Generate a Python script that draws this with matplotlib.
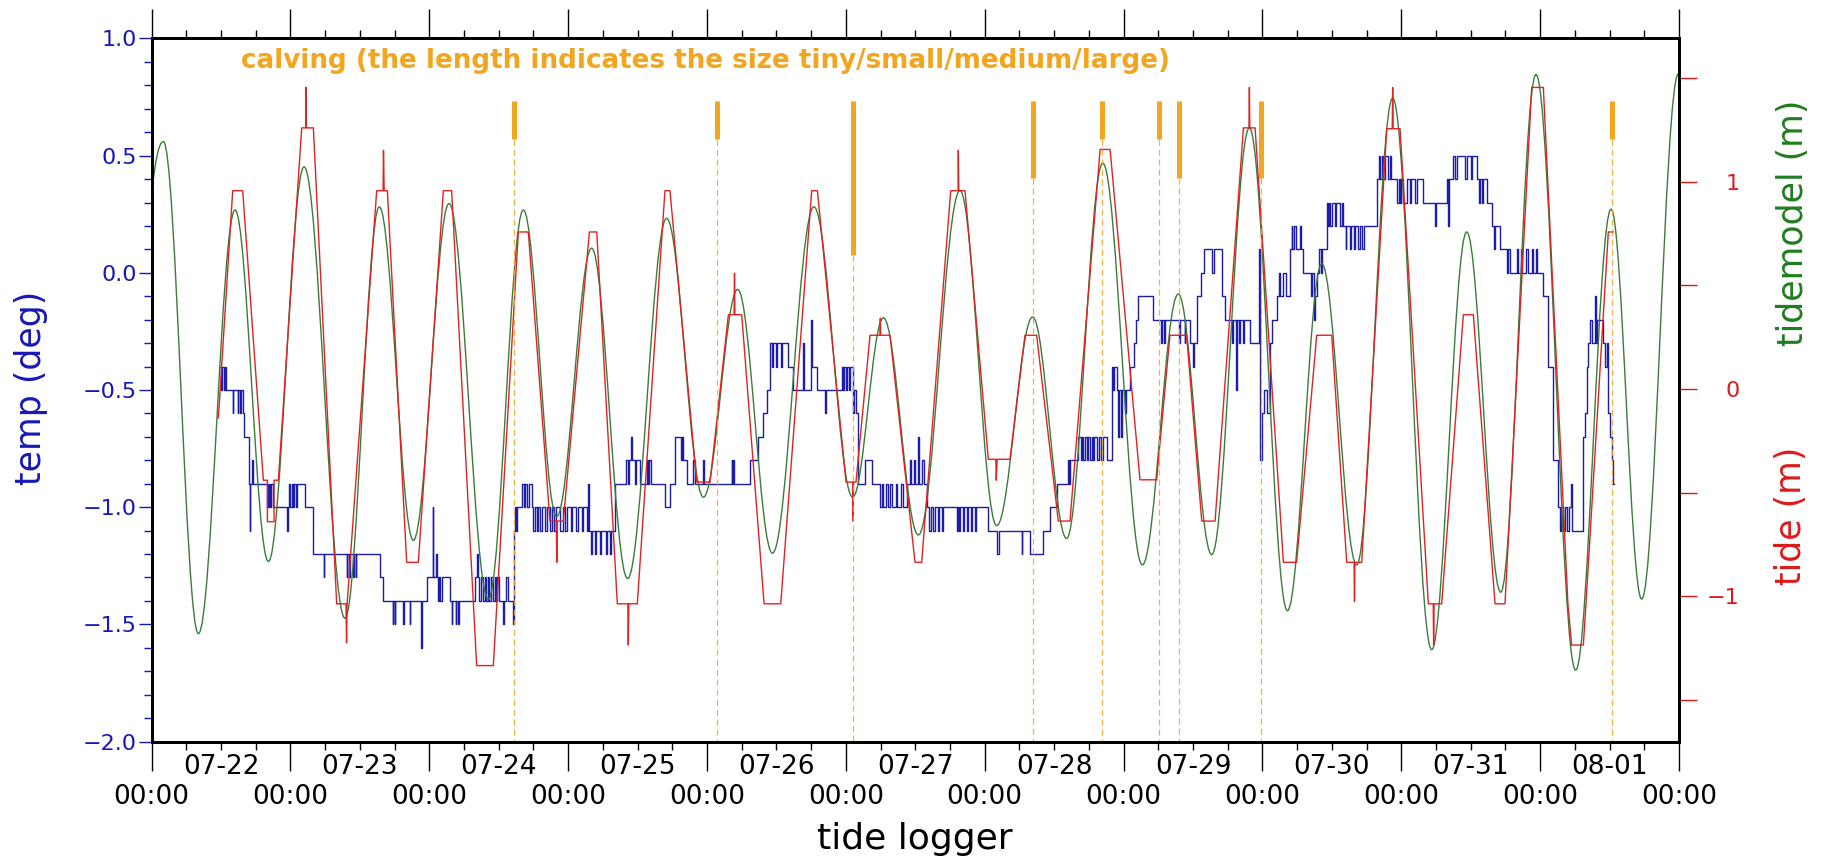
import matplotlib
matplotlib.use('Agg')
import matplotlib.pyplot as plt
from matplotlib.path import Path
from matplotlib.patches import PathPatch
from matplotlib.ticker import MultipleLocator, FixedLocator, FuncFormatter

plt.rcParams['font.family'] = ['DejaVu Sans']

# ---------------- data ----------------
# time axis: days since 07-22 00:00
day_labels = ['07-22', '07-23', '07-24', '07-25', '07-26', '07-27',
              '07-28', '07-29', '07-30', '07-31', '08-01']
hour_label = '00:00'

# tide model (m): turning points (day, value)
model_t = [0.0, 0.0845, 0.337, 0.601, 0.841, 1.098, 1.393, 1.640, 1.885, 2.142,
           2.425, 2.677, 2.917, 3.169, 3.428, 3.709, 3.974, 4.221, 4.471, 4.770,
           5.049, 5.270, 5.522, 5.822, 6.086, 6.345, 6.590, 6.850, 7.135, 7.394,
           7.635, 7.906, 8.180, 8.427, 8.679, 8.938, 9.219, 9.471, 9.716, 9.970,
           10.256, 10.511, 10.731, 10.996]
model_v = [0.945, 1.193, -1.180, 0.863, -0.832, 1.071, -1.106, 0.878, -0.730, 0.894,
           -1.013, 0.863, -0.615, 0.679, -0.914, 0.823, -0.522, 0.480, -0.792, 0.878,
           -0.522, 0.343, -0.704, 0.956, -0.659, 0.347, -0.721, 1.089, -0.848, 0.458,
           -0.799, 1.259, -1.069, 0.604, -0.848, 1.403, -1.257, 0.757, -0.980, 1.516,
           -1.356, 0.867, -1.013, 1.520]

# tide logger (m): corner points (day, value)
tide_pts = [
    (0.481, -0.14), (0.584, 0.956), (0.656, 0.956), (0.805, -0.44), (0.834, -0.44),
    (0.834, -0.64), (0.882, -0.64), (0.882, -0.44), (0.913, -0.44),
    (1.081, 1.259), (1.110, 1.259), (1.112, 1.454), (1.115, 1.259), (1.165, 1.259),
    (1.333, -1.036), (1.400, -1.036), (1.404, -1.224), (1.408, -1.036),
    (1.621, 0.956), (1.667, 0.956), (1.670, 1.151), (1.675, 0.956), (1.698, 0.956),
    (1.837, -0.836), (1.921, -0.836),
    (2.101, 0.956), (2.161, 0.956),
    (2.341, -1.334), (2.461, -1.334),
    (2.641, 0.757), (2.713, 0.757),
    (2.869, -0.637), (2.915, -0.637), (2.918, -0.836), (2.921, -0.637), (2.965, -0.637),
    (3.153, 0.757), (3.206, 0.757),
    (3.354, -1.036), (3.430, -1.036), (3.433, -1.235), (3.437, -1.036), (3.498, -1.036),
    (3.697, 0.956), (3.733, 0.956),
    (3.926, -0.449), (4.022, -0.449),
    (4.154, 0.358), (4.195, 0.358), (4.198, 0.558), (4.201, 0.358), (4.250, 0.358),
    (4.411, -1.036), (4.531, -1.036),
    (4.754, 0.956), (4.795, 0.956),
    (5.001, -0.449), (5.050, -0.449), (5.052, -0.637), (5.055, -0.449), (5.073, -0.449),
    (5.174, 0.259), (5.245, 0.259), (5.248, 0.340), (5.251, 0.259), (5.318, 0.259),
    (5.498, -0.836), (5.546, -0.836),
    (5.755, 0.956), (5.808, 0.956), (5.810, 1.151), (5.813, 0.956), (5.858, 0.956),
    (6.026, -0.339), (6.080, -0.339), (6.083, -0.440), (6.090, -0.339), (6.182, -0.339),
    (6.290, 0.259), (6.374, 0.259),
    (6.530, -0.637), (6.614, -0.637),
    (6.831, 1.155), (6.903, 1.155),
    (7.118, -0.438), (7.238, -0.438),
    (7.334, 0.259), (7.454, 0.259),
    (7.563, -0.637), (7.659, -0.637),
    (7.863, 1.259), (7.903, 1.259), (7.906, 1.454), (7.909, 1.259), (7.947, 1.259),
    (8.151, -0.836), (8.246, -0.836),
    (8.391, 0.259), (8.499, 0.259),
    (8.607, -0.836), (8.660, -0.836), (8.663, -1.025), (8.666, -0.836), (8.715, -0.836),
    (8.895, 1.255), (8.935, 1.255), (8.938, 1.454), (8.941, 1.255), (8.991, 1.255),
    (9.195, -1.036), (9.230, -1.036), (9.233, -1.235), (9.236, -1.036), (9.291, -1.036),
    (9.447, 0.358), (9.519, 0.358),
    (9.675, -1.036), (9.747, -1.036),
    (9.939, 1.454), (10.023, 1.454),
    (10.200, -1.036), (10.227, -1.235), (10.311, -1.235), (10.330, -1.036),
    (10.491, 0.757), (10.527, 0.757),
]

# temperature (deg): level changes (day, value), drawn as steps
temp_steps = [
    (0.493, -0.4), (0.500, -0.5), (0.510, -0.4), (0.520, -0.5), (0.527, -0.4), (0.536, -0.5),
    (0.584, -0.6), (0.589, -0.5), (0.620, -0.6), (0.625, -0.5), (0.637, -0.6), (0.641, -0.5), (0.656, -0.6),
    (0.668, -0.7), (0.704, -0.9), (0.707, -1.1), (0.711, -0.9), (0.725, -0.8), (0.730, -0.9),
    (0.829, -1.0), (0.835, -0.9), (0.841, -1.0), (0.847, -0.9), (0.855, -1.0), (0.860, -0.9), (0.872, -1.0),
    (0.975, -1.1), (0.980, -1.0), (0.992, -0.9), (1.000, -1.0), (1.008, -0.9), (1.020, -1.0),
    (1.028, -0.9), (1.040, -1.0), (1.050, -0.9),
    (1.105, -1.0), (1.165, -1.2), (1.240, -1.3), (1.245, -1.2),
    (1.405, -1.3), (1.410, -1.2), (1.425, -1.3), (1.430, -1.2), (1.450, -1.3), (1.455, -1.2),
    (1.470, -1.3), (1.475, -1.2),
    (1.645, -1.3), (1.669, -1.4), (1.735, -1.5), (1.740, -1.4), (1.750, -1.5), (1.755, -1.4),
    (1.810, -1.5), (1.815, -1.4), (1.860, -1.5), (1.864, -1.4),
    (1.940, -1.6), (1.948, -1.4), (1.981, -1.3), (2.024, -1.0), (2.030, -1.3),
    (2.050, -1.2), (2.055, -1.3), (2.060, -1.4), (2.070, -1.3), (2.080, -1.4), (2.090, -1.3),
    (2.149, -1.4), (2.160, -1.5), (2.165, -1.4), (2.190, -1.5), (2.195, -1.4), (2.210, -1.5), (2.215, -1.4),
    (2.329, -1.3), (2.340, -1.2), (2.350, -1.3), (2.360, -1.4), (2.370, -1.3),
    (2.389, -1.4), (2.400, -1.3), (2.410, -1.4), (2.420, -1.3), (2.430, -1.4), (2.445, -1.3),
    (2.460, -1.4), (2.470, -1.3), (2.480, -1.4), (2.490, -1.3), (2.500, -1.4), (2.533, -1.5),
    (2.538, -1.4), (2.555, -1.3), (2.565, -1.4), (2.600, -1.5),
    (2.611, -1.1), (2.617, -1.0), (2.625, -1.1), (2.632, -1.0), (2.665, -0.9), (2.680, -1.0),
    (2.690, -0.9), (2.705, -1.0), (2.715, -0.9), (2.737, -1.0),
    (2.750, -1.1), (2.760, -1.0), (2.775, -1.1), (2.785, -1.0), (2.800, -1.1), (2.815, -1.0),
    (2.830, -1.1), (2.845, -1.0), (2.870, -1.1), (2.880, -1.0), (2.900, -1.1), (2.915, -1.0),
    (2.940, -1.1), (2.960, -1.0), (2.980, -1.1), (2.995, -1.0), (3.020, -1.1), (3.030, -1.0),
    (3.060, -1.1), (3.070, -1.0), (3.100, -1.1), (3.110, -1.0),
    (3.133, -1.1), (3.145, -0.9), (3.150, -1.1), (3.165, -1.2), (3.175, -1.1), (3.190, -1.2),
    (3.200, -1.1), (3.230, -1.2), (3.240, -1.1), (3.270, -1.2), (3.280, -1.1), (3.300, -1.2), (3.310, -1.1),
    (3.337, -0.9), (3.417, -0.8), (3.430, -0.9), (3.440, -0.8), (3.455, -0.7), (3.460, -0.8),
    (3.480, -0.9), (3.490, -0.8), (3.517, -0.9), (3.565, -0.8), (3.575, -0.9), (3.585, -0.8), (3.600, -0.9),
    (3.697, -1.0), (3.733, -0.9), (3.769, -0.7), (3.810, -0.8), (3.820, -0.7), (3.829, -0.8),
    (3.854, -0.9), (3.900, -0.8), (3.910, -0.9), (3.970, -0.8), (3.975, -0.9),
    (4.177, -0.8), (4.182, -0.9), (4.190, -0.8), (4.195, -0.9), (4.310, -0.8), (4.370, -0.7),
    (4.406, -0.6), (4.430, -0.5), (4.454, -0.3), (4.470, -0.4), (4.475, -0.3), (4.500, -0.4),
    (4.505, -0.3), (4.530, -0.4), (4.540, -0.3), (4.586, -0.4), (4.622, -0.5), (4.690, -0.3),
    (4.698, -0.5), (4.750, -0.2), (4.755, -0.4), (4.790, -0.5), (4.850, -0.6), (4.855, -0.5),
    (4.970, -0.4), (4.980, -0.5), (4.990, -0.4), (5.000, -0.5), (5.010, -0.4), (5.020, -0.5),
    (5.030, -0.4), (5.054, -0.6), (5.060, -0.5), (5.070, -0.6),
    (5.090, -0.9), (5.138, -0.8), (5.186, -0.9), (5.246, -1.0), (5.260, -0.9), (5.270, -1.0),
    (5.290, -0.9), (5.300, -1.0), (5.320, -0.9), (5.330, -1.0), (5.360, -0.9), (5.370, -1.0),
    (5.400, -0.9), (5.410, -1.0),
    (5.439, -0.9), (5.460, -0.8), (5.470, -0.9), (5.490, -0.8), (5.500, -0.9), (5.520, -0.7),
    (5.525, -0.9), (5.550, -0.8), (5.560, -0.9),
    (5.582, -1.0), (5.600, -1.1), (5.610, -1.0), (5.630, -1.1), (5.640, -1.0), (5.660, -1.1),
    (5.670, -1.0), (5.690, -1.1), (5.700, -1.0),
    (5.798, -1.1), (5.805, -1.0), (5.815, -1.1), (5.825, -1.0), (5.840, -1.1), (5.850, -1.0),
    (5.870, -1.1), (5.880, -1.0), (5.900, -1.1), (5.910, -1.0), (5.930, -1.1), (5.940, -1.0),
    (6.026, -1.1), (6.090, -1.2), (6.100, -1.1), (6.265, -1.2), (6.272, -1.1), (6.326, -1.2),
    (6.422, -1.1), (6.470, -1.0), (6.518, -0.9), (6.600, -0.8), (6.607, -0.9), (6.614, -0.8),
    (6.674, -0.7), (6.690, -0.8), (6.700, -0.7), (6.710, -0.8), (6.720, -0.7), (6.735, -0.8),
    (6.745, -0.7), (6.760, -0.8), (6.770, -0.7), (6.780, -0.8), (6.790, -0.7), (6.810, -0.8),
    (6.820, -0.7), (6.840, -0.8), (6.850, -0.7),
    (6.878, -0.8), (6.914, -0.4), (6.925, -0.5), (6.930, -0.4), (6.950, -0.5), (6.960, -0.7),
    (6.970, -0.5), (6.985, -0.7), (6.990, -0.5), (7.010, -0.6), (7.020, -0.5), (7.046, -0.4),
    (7.075, -0.3), (7.090, -0.2), (7.106, -0.1), (7.214, -0.2), (7.270, -0.3), (7.275, -0.2),
    (7.290, -0.3), (7.300, -0.2), (7.400, -0.3), (7.405, -0.2), (7.440, -0.3), (7.445, -0.2),
    (7.478, -0.3), (7.500, -0.4), (7.510, -0.3), (7.530, -0.1), (7.560, 0.0), (7.580, 0.1),
    (7.640, 0.0), (7.650, 0.1), (7.710, -0.1), (7.730, -0.2), (7.780, -0.3), (7.790, -0.2),
    (7.810, -0.5), (7.815, -0.2), (7.830, -0.3), (7.840, -0.2), (7.860, -0.3), (7.870, -0.2),
    (7.910, -0.3), (7.975, 0.1), (7.985, -0.8), (8.000, -0.6), (8.010, -0.5), (8.030, -0.6),
    (8.055, -0.3), (8.070, -0.2), (8.103, -0.1), (8.120, 0.0), (8.130, -0.1), (8.150, 0.0),
    (8.170, -0.1), (8.199, 0.1), (8.210, 0.2), (8.215, 0.1), (8.230, 0.2), (8.240, 0.1),
    (8.270, 0.2), (8.275, 0.1), (8.295, 0.0), (8.350, -0.1), (8.360, 0.0), (8.370, -0.2),
    (8.375, -0.1), (8.391, 0.0), (8.410, 0.1), (8.420, 0.0), (8.430, 0.1),
    (8.463, 0.3), (8.470, 0.2), (8.480, 0.3), (8.490, 0.2), (8.500, 0.3), (8.520, 0.2),
    (8.530, 0.3), (8.560, 0.2), (8.570, 0.3),
    (8.583, 0.2), (8.600, 0.1), (8.605, 0.2), (8.631, 0.1), (8.640, 0.2), (8.660, 0.1),
    (8.670, 0.2), (8.690, 0.1), (8.700, 0.2), (8.720, 0.1), (8.730, 0.2),
    (8.823, 0.4), (8.840, 0.5), (8.845, 0.4), (8.859, 0.5), (8.870, 0.4), (8.880, 0.5),
    (8.907, 0.4), (8.920, 0.5), (8.925, 0.4), (8.967, 0.3), (8.980, 0.4), (8.990, 0.3),
    (9.000, 0.4), (9.010, 0.3), (9.039, 0.4), (9.060, 0.3), (9.070, 0.4), (9.100, 0.3),
    (9.110, 0.4), (9.159, 0.3), (9.240, 0.2), (9.250, 0.3), (9.327, 0.4), (9.335, 0.2),
    (9.345, 0.4), (9.375, 0.5), (9.390, 0.4), (9.400, 0.5), (9.460, 0.4), (9.470, 0.5),
    (9.500, 0.4), (9.510, 0.5), (9.543, 0.4), (9.560, 0.3), (9.565, 0.4), (9.580, 0.3),
    (9.590, 0.4), (9.615, 0.3), (9.651, 0.2), (9.670, 0.1), (9.675, 0.2), (9.711, 0.1),
    (9.759, 0.0), (9.770, 0.1), (9.780, 0.0), (9.831, 0.1), (9.840, 0.0), (9.860, 0.1),
    (9.870, 0.0), (9.900, 0.1), (9.910, 0.0), (9.940, 0.1), (9.950, 0.0), (9.970, 0.1),
    (9.980, 0.0), (10.023, -0.1), (10.059, -0.4), (10.095, -0.8), (10.131, -1.0), (10.140, -1.1),
    (10.150, -1.0), (10.167, -1.1), (10.180, -1.0), (10.190, -1.1), (10.210, -1.0), (10.225, -0.9),
    (10.230, -1.1), (10.311, -0.7), (10.323, -0.6), (10.335, -0.4), (10.347, -0.3), (10.360, -0.2),
    (10.370, -0.3), (10.395, -0.1), (10.405, -0.3), (10.410, -0.2), (10.455, -0.3), (10.470, -0.4),
    (10.480, -0.3), (10.491, -0.6), (10.500, -0.7), (10.515, -0.8), (10.525, -0.9), (10.532, -0.9),
]

# calving events (day) and their size class
calving_t = [2.610, 4.072, 5.049, 6.345, 6.845, 7.258, 7.402, 7.990, 10.515]
calving_size = ['tiny', 'tiny', 'large', 'small', 'tiny', 'tiny', 'small', 'small', 'tiny']
size_rank = {'tiny': 1, 'small': 2, 'medium': 3, 'large': 4}
calving_top = 0.733      # temp-axis units
calving_unit = 0.164     # bar length per size rank

# ---------------- style ----------------
C_BLUE = '#1c1cac'
C_BLUE_TXT = '#1818b8'
C_RED = '#e02222'
C_RED_TXT = '#dd1a1a'
C_GREEN = '#3b7b3b'
C_GREEN_TXT = '#1e7d1e'
C_ORANGE = '#f2a51f'

W, H = 1828, 857
fig = plt.figure(figsize=(W / 100, H / 100), dpi=100)
left, right, top, bottom = 151.6, 1679.0, 38.5, 741.5
ax = fig.add_axes([left / W, 1 - bottom / H, (right - left) / W, (bottom - top) / H])
ax2 = ax.twinx()

# temperature
tt = [p[0] for p in temp_steps]
tv = [p[1] for p in temp_steps]
ax.plot(tt, tv, drawstyle='steps-post', color=C_BLUE, lw=1.0)

# tide logger
ax2.plot([p[0] for p in tide_pts], [p[1] for p in tide_pts], color=C_RED, lw=1.0)

# tide model as smooth curve through turning points
a = 0.3642
verts = [(model_t[0], model_v[0])]
codes = [Path.MOVETO]
for i in range(1, len(model_t)):
    t0, v0 = model_t[i - 1], model_v[i - 1]
    t1, v1 = model_t[i], model_v[i]
    dt = t1 - t0
    if i == 1:
        c1 = (t0 + dt / 3, v0 + (v1 - v0) * 2 / 3)
    else:
        c1 = (t0 + a * dt, v0)
    c2 = (t1 - a * dt, v1)
    verts += [c1, c2, (t1, v1)]
    codes += [Path.CURVE4] * 3
ax2.add_patch(PathPatch(Path(verts, codes), fill=False, edgecolor=C_GREEN, lw=1.0))

# calving markers (temp-axis coordinates, drawn on top)
for t, s in zip(calving_t, calving_size):
    bot = calving_top - size_rank[s] * calving_unit
    ax2.plot([t, t], [bot, -2.0], transform=ax.transData, color=C_ORANGE,
             lw=0.9, ls=(0, (5, 3)), alpha=0.85, clip_on=True)
    ax2.plot([t, t], [calving_top, bot], transform=ax.transData, color=C_ORANGE,
             lw=3.6, solid_capstyle='butt', clip_on=True)

ax.text(0.0585, 0.968, 'calving (the length indicates the size tiny/small/medium/large)',
        transform=ax.transAxes, ha='left', va='center', color=C_ORANGE,
        fontsize=18.8, fontweight='bold')

# ---------------- axes ----------------
ax.set_xlim(0, 11)
ax.set_ylim(-2.0, 1.0)
ax2.set_ylim(-1.70, 1.69)
ax2.set_xlim(0, 11)

ax.xaxis.set_major_locator(FixedLocator(list(range(12))))
ax.xaxis.set_major_formatter(FuncFormatter(lambda v, p: hour_label))
ax.xaxis.set_minor_locator(MultipleLocator(0.25))


def minor_fmt(v, p):
    k = v - 0.5
    i = int(round(k))
    if abs(k - i) < 1e-6 and 0 <= i < len(day_labels):
        return day_labels[i]
    return ''


ax.xaxis.set_minor_formatter(FuncFormatter(minor_fmt))
ax.tick_params(axis='x', which='major', direction='out', length=21, width=1.0,
               top=True, bottom=True, labelsize=19, pad=9.5, color='black')
ax.tick_params(axis='x', which='minor', direction='out', length=6, width=1.0,
               top=True, bottom=True, labelsize=19, pad=3.3, color='black')

ax.yaxis.set_major_locator(MultipleLocator(0.5))
ax.yaxis.set_minor_locator(MultipleLocator(0.1))
ax.yaxis.set_major_formatter(FuncFormatter(
    lambda v, p: ('%.1f' % v).replace('-', '\u2212') if abs(v) > 1e-9 else '0.0'))
ax.tick_params(axis='y', which='major', direction='out', length=9.3, width=1.0,
               labelsize=16, pad=1.5, colors=C_BLUE_TXT)
ax.tick_params(axis='y', which='minor', direction='out', length=5.5, width=1.0,
               color=C_BLUE_TXT)

tide_ticks = [-1.5, -1.0, -0.5, 0.0, 0.5, 1.0, 1.5]
tide_labels = ['', '\u22121', '', '0', '', '1', '']
ax2.yaxis.set_major_locator(FixedLocator(tide_ticks))
ax2.set_yticklabels(tide_labels)
ax2.tick_params(axis='y', which='major', direction='out', length=13, width=1.0,
                labelsize=16, pad=30.5, colors=C_RED_TXT)
plt.setp(ax2.get_yticklabels(), ha='right')

for axx in (ax, ax2):
    for sp in axx.spines.values():
        sp.set_linewidth(2.0)
        sp.set_color('black')

# axis titles
cx = (left + right) / 2 / W
fig.text(cx, 1 - 849 / H, 'tide logger', ha='center', va='baseline', fontsize=26)
fig.text(31.5 / W, 1 - 387.5 / H, 'temp (deg)', rotation=90, ha='center', va='center',
         fontsize=25, color=C_BLUE_TXT)
fig.text(1793 / W, 1 - 222.5 / H, 'tidemodel (m)', rotation=90, ha='center', va='center',
         fontsize=25, color=C_GREEN_TXT)
fig.text(1791 / W, 1 - 516 / H, 'tide (m)', rotation=90, ha='center', va='center',
         fontsize=25, color=C_RED_TXT)

fig.savefig('out.png', dpi=100)
